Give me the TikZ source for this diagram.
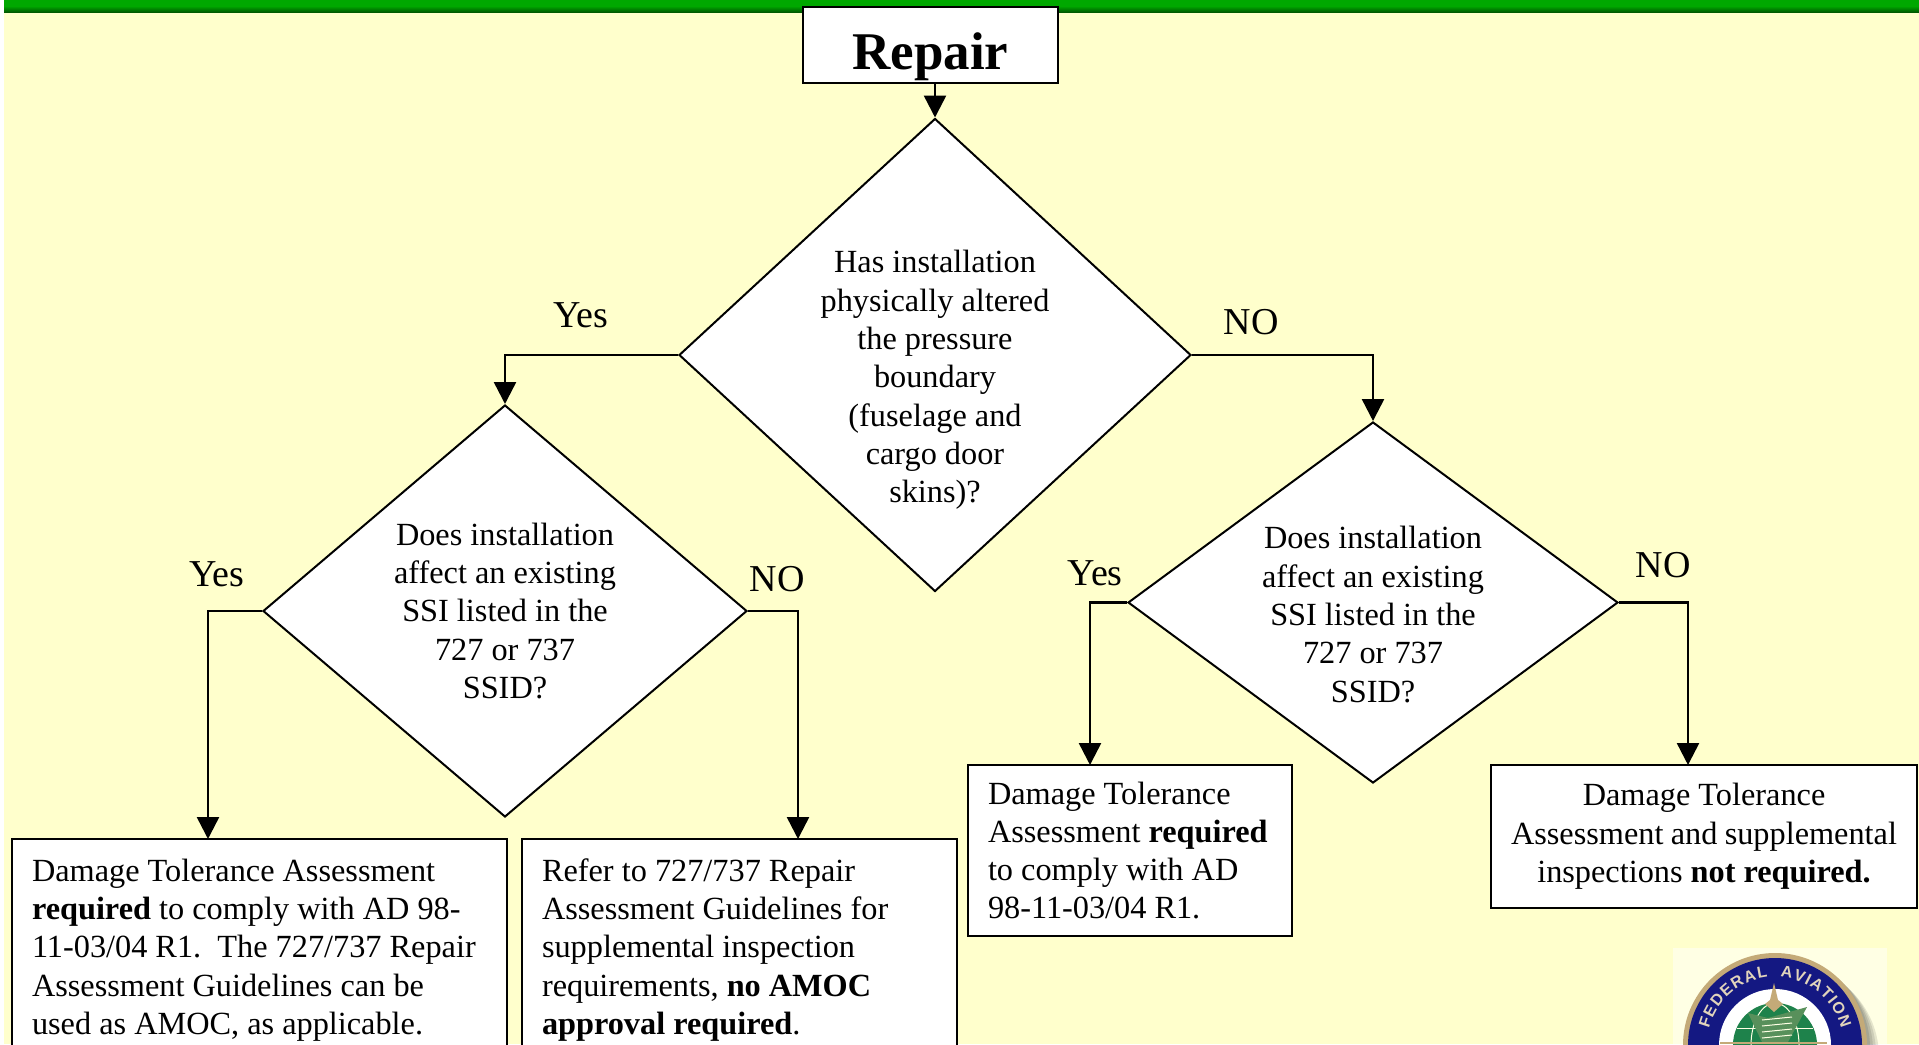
\documentclass[tikz,border=0pt]{standalone}
\usepackage{fontspec}
\setmainfont{Liberation Serif}
\newfontfamily\logofont{Liberation Sans}
\usetikzlibrary{shapes.geometric,arrows.meta,decorations.text}
\definecolor{paleyellow}{RGB}{255, 255, 204}
\definecolor{bargreen}{RGB}{0, 168, 0}
\definecolor{bardark}{RGB}{0, 90, 0}
\definecolor{logocream}{RGB}{255, 255, 228}
\definecolor{logotan}{RGB}{196, 170, 120}
\definecolor{logoblue}{RGB}{20, 24, 130}
\definecolor{logogreen}{RGB}{30, 130, 75}
\tikzset{
    qdiamond/.style   = {diamond, draw=black, fill=white, line width=2pt, inner sep=0pt},
    qtext/.style      = {align=center, font=\fontsize{32.3}{38.3}\selectfont},
    answerbox/.style  = {draw=black, fill=white, line width=2.5pt, anchor=north west, outer sep=0pt,
                         inner xsep=20pt, inner ysep=0pt, font=\fontsize{32.3}{38.3}\selectfont},
    branchlabel/.style= {font=\fontsize{38}{42}\selectfont},
    flowline/.style   = {line width=2.5pt, -{Triangle[length=22pt,width=22pt]}}
}

\begin{document}
\begin{tikzpicture}[x=1pt,y=-1pt]
    \useasboundingbox (0,0) rectangle (1919,1044);
    \clip (0,0) rectangle (1919,1044);
    \fill[white]                            (0,0)    rectangle (1919,1044);
    \fill[paleyellow]                       (4,0)    rectangle (1919,1044);
    \fill[bargreen]                         (4,0)    rectangle (1919,6);
    \shade[top color=bargreen,bottom color=bardark] (4,6) rectangle (1919,12);

    % logo
    \fill[logocream]                        (1673,948) rectangle (1887,1044);
    \foreach \s in {3,6,9,12}
        \fill[black,opacity=0.10]           (1775,1045)++(\s pt,-\s pt) circle (92pt);
    \fill[logotan]                          (1775,1045) circle (92pt);
    \fill[logoblue]                         (1775,1045) circle (87pt);
    \fill[white]                            (1775,1045) circle (56pt);
    \fill[logogreen]                        (1775,1045) circle (42pt);
    \draw[logocream,line width=1pt]         (1775,1045) ellipse (24pt and 42pt);
    \draw[logocream,line width=1pt]         (1737,1028) -- (1813,1028);
    \fill[logotan!35!logogreen]             (1748,1013) -- (1768,1018) -- (1807,1007) -- (1788,1042) -- (1762,1042) -- cycle;
    \foreach \y in {1020,1026,1032,1038}
        \draw[logocream,line width=1pt]     (1762,\y) -- (1792,\y-3);
    \fill[logotan]                          (1774,983) -- (1778,1000) -- (1783,1004) -- (1774,1012) -- (1765,1004) -- (1770,1000) -- cycle;
    \fill[logotan]                          (1720,1042) rectangle (1827,1044);
    \path[decorate,decoration={text along path,text align=fit to path,
          text={|\logofont\bfseries\fontsize{16}{16}\selectfont\color{logotan!50!white}|FEDERAL{ }{ }AVIATION}}]
        (1775,1045) ++(166:68pt) arc[start angle=166,end angle=14,radius=68pt];

    \node[draw=black, fill=white, line width=2.5pt, minimum width=255pt, minimum height=76pt, inner ysep=0pt,
          text height=59pt, text depth=11pt,
          font=\fontsize{53}{60}\selectfont\bfseries] (repair) at (930.5,45) {Repair};

    \node[qdiamond, minimum width=512pt, minimum height=473pt] (main)  at (935,355)    {};
    \node[qdiamond, minimum width=484pt, minimum height=412pt] (left)  at (505,611)    {};
    \node[qdiamond, minimum width=490pt, minimum height=361pt] (right) at (1373,602.5) {};

    \node[qtext, yshift=-25pt] (maintext) at (main)  {Has installation\\physically altered\\the pressure\\boundary\\(fuselage and\\cargo door\\skins)?};
    \node[qtext]               (lefttext) at (left)  {Does installation\\affect an existing\\SSI listed in the\\727 or 737\\SSID?};
    \node[qtext, yshift=-12pt] (righttext) at (right) {Does installation\\affect an existing\\SSI listed in the\\727 or 737\\SSID?};

    \node[answerbox, align=flush left,   text width=455pt, minimum height=222pt] (ltol)  at (12,839)   {Damage Tolerance Assessment\\\textbf{required} to comply with AD 98-\\11-03/04 R1.\ \ The 727/737 Repair\\Assessment Guidelines can be\\used as AMOC, as applicable.};
    \node[answerbox, align=flush left,   text width=395pt, minimum height=222pt] (lguide) at (522,839)  {Refer to 727/737 Repair\\Assessment Guidelines for\\supplemental inspection\\requirements, \textbf{no AMOC}\\\textbf{approval required}.};
    \node[answerbox, align=flush left,   text width=284pt, minimum height=171pt] (rtol)  at (968,765)  {Damage Tolerance\\Assessment \textbf{required}\\to comply with AD\\98-11-03/04 R1.};
    \node[answerbox, align=flush center, text width=386pt, minimum height=143pt] (rnone) at (1491,765) {Damage Tolerance\\Assessment and supplemental\\inspections \textbf{not required.}};

    \node[branchlabel] (mainyes)  at (581,315)  {Yes};
    \node[branchlabel] (mainno)   at (1251,322) {NO};
    \node[branchlabel] (leftyes)  at (217,574)  {Yes};
    \node[branchlabel] (leftno)   at (777,579)  {NO};
    \node[branchlabel] (rightyes) at (1095,573) {Yes};
    \node[branchlabel] (rightno)  at (1663,565) {NO};

    \draw[flowline] (repair.south -| main.north) -- (main.north);
    \draw[flowline] (main.west)  -| (left.north);
    \draw[flowline] (main.east)  -| (right.north);
    \draw[flowline] (left.west)  -| ([xshift=196pt]ltol.north west);
    \draw[flowline] (left.east)  -| ([xshift=276pt]lguide.north west);
    \draw[flowline] (right.west) -| ([xshift=122pt]rtol.north west);
    \draw[flowline] (right.east) -| ([xshift=197pt]rnone.north west);
\end{tikzpicture}
\end{document}
